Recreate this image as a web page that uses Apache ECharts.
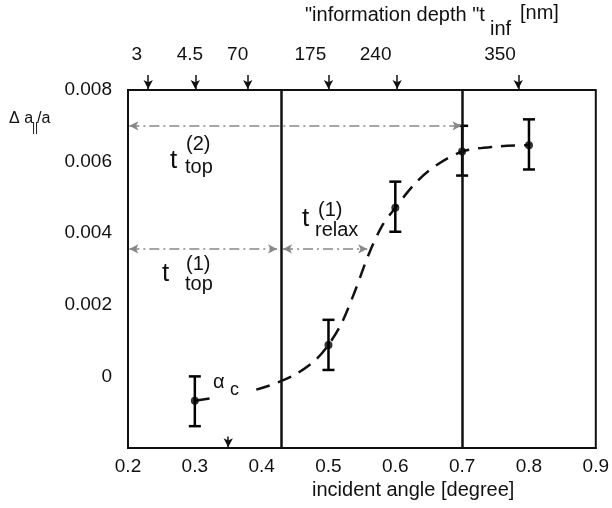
<!DOCTYPE html>
<html>
<head>
<meta charset="utf-8">
<script src="https://cdn.jsdelivr.net/npm/echarts@6/dist/echarts.min.js"></script>
<style>
  html, body { margin: 0; padding: 0; background: #fff; }
  #main { width: 612px; height: 508px; }
</style>
</head>
<body>
<div id="main"></div>
<script>
// measured points with error bars
var angles = [0.3, 0.5, 0.6, 0.7, 0.8];
var strain = [-0.00068, 0.00088, 0.00471, 0.00628, 0.00646];
var errLow = [-0.00139, 0.00018, 0.00404, 0.00561, 0.00578];
var errHigh = [0.0, 0.00158, 0.00544, 0.0070, 0.00718];

// dashed guide curve
var curveX = [0.392, 0.42, 0.45, 0.48, 0.5, 0.52, 0.54, 0.56, 0.58, 0.6, 0.63, 0.66, 0.7, 0.75, 0.8];
var curveY = [-0.00037, -0.0002, 0.00005, 0.00045, 0.00088, 0.0015, 0.0024, 0.0034, 0.0042, 0.00471, 0.0054, 0.00588, 0.00628, 0.00642, 0.00646];
var stubX = [0.3, 0.322];
var stubY = [-0.00068, -0.00062];

// region borders, critical angle
var borderX = [0.427, 0.702];
var alphaC = 0.35;

// information depth arrows on top
var depthText = ['3', '4.5', '70', '175', '240', '350'];
var depthArrowX = [0.23, 0.3, 0.378, 0.498, 0.6, 0.78];
var depthLabelX = [0.213, 0.292, 0.363, 0.471, 0.568, 0.753];

// thickness arrows: [from, to, level]
var arrowTop2 = [0.202, 0.699, 0.007];
var arrowTop1 = [0.202, 0.423, 0.00356];
var arrowRelax = [0.432, 0.558, 0.00356];

var xTicks = { min: 0.2, max: 0.9, step: 0.1 };
var yTicks = { min: -0.002, max: 0.008, step: 0.002 };

var FONT = 'Liberation Sans, Arial, Helvetica, sans-serif';
var chart = echarts.init(document.getElementById('main'));

function zip(a, b) {
  return a.map(function (v, i) { return [v, b[i]]; });
}

function renderErr(params, api) {
  var x = api.value(0);
  var lo = api.coord([x, api.value(1)]);
  var hi = api.coord([x, api.value(2)]);
  var w = 6;
  var st = { stroke: '#000', lineWidth: 2.5 };
  return {
    type: 'group',
    children: [
      { type: 'line', shape: { x1: lo[0], y1: lo[1], x2: hi[0], y2: hi[1] }, style: st },
      { type: 'line', shape: { x1: lo[0] - w, y1: lo[1], x2: lo[0] + w, y2: lo[1] }, style: st },
      { type: 'line', shape: { x1: hi[0] - w, y1: hi[1], x2: hi[0] + w, y2: hi[1] }, style: st }
    ]
  };
}

function hArrow(a) {
  return [{ coord: [a[0], a[2]] }, { coord: [a[1], a[2]] }];
}

function txt(s, x, y, size, align) {
  return {
    type: 'text', left: x, top: y,
    style: {
      text: s, font: size + 'px ' + FONT, fill: '#111',
      textAlign: align || 'left', textVerticalAlign: 'middle'
    }
  };
}

var option = {
  animation: false,
  backgroundColor: '#fff',
  grid: [
    { left: 128, right: 13, top: 90, bottom: 60, show: true, borderColor: '#111', borderWidth: 2 },
    { left: 128, right: 13, top: 0, height: 90 }
  ],
  xAxis: [
    {
      type: 'value', min: xTicks.min, max: xTicks.max, interval: xTicks.step,
      axisLine: { show: true, onZero: false, lineStyle: { color: '#111', width: 2 } },
      axisTick: { show: false },
      splitLine: { show: false },
      axisLabel: {
        margin: 9, fontSize: 19, color: '#111', fontFamily: FONT,
        formatter: function (v) { return v.toFixed(1); }
      }
    },
    { type: 'value', gridIndex: 1, min: xTicks.min, max: xTicks.max, show: false }
  ],
  yAxis: [
    {
      type: 'value', min: yTicks.min, max: yTicks.max, interval: yTicks.step,
      axisLine: { show: true, onZero: false, lineStyle: { color: '#111', width: 2 } },
      axisTick: { show: false },
      splitLine: { show: false },
      axisLabel: {
        margin: 16, fontSize: 19, color: '#111', fontFamily: FONT,
        padding: [4, 0, 0, 0],
        formatter: function (v) {
          var r = Math.round(v * 1000) / 1000;
          if (r < 0) return '';
          if (r === 0) return '0';
          return r.toFixed(3);
        }
      }
    },
    { type: 'value', gridIndex: 1, min: 0, max: 9, show: false }
  ],
  series: [
    {
      name: 'curve', type: 'line', data: zip(curveX, curveY), smooth: 0.3,
      showSymbol: false, symbol: 'none',
      lineStyle: { color: '#111', width: 2.5, type: [14, 9] }
    },
    {
      name: 'stub', type: 'line', data: zip(stubX, stubY),
      showSymbol: false, symbol: 'none',
      lineStyle: { color: '#111', width: 2.5 }
    },
    {
      name: 'error', type: 'custom', renderItem: renderErr,
      data: angles.map(function (x, i) { return [x, errLow[i], errHigh[i]]; }),
      encode: { x: 0, y: [1, 2] }, z: 3
    },
    {
      name: 'points', type: 'scatter', data: zip(angles, strain),
      symbolSize: 8, itemStyle: { color: '#000' }, z: 4
    },
    {
      name: 'borders', type: 'line', data: [],
      markLine: {
        silent: true, symbol: ['none', 'none'], label: { show: false },
        lineStyle: { color: '#111', width: 2.5, type: 'solid' },
        data: borderX.map(function (x) { return { xAxis: x }; })
      }
    },
    {
      name: 'guides', type: 'line', data: [],
      markLine: {
        silent: true, symbol: ['arrow', 'arrow'], symbolSize: [7, 9],
        label: { show: false },
        lineStyle: { color: '#888', width: 1.5, type: [10, 4, 2, 4] },
        data: [hArrow(arrowTop2), hArrow(arrowTop1), hArrow(arrowRelax)]
      }
    },
    {
      name: 'alphaC', type: 'line', data: [],
      markLine: {
        silent: true, symbol: ['none', 'arrow'], symbolSize: [7, 9],
        label: { show: false },
        lineStyle: { color: '#111', width: 1.5, type: 'solid' },
        data: [[{ coord: [alphaC, -0.00168] }, { coord: [alphaC, -0.00198] }]]
      }
    },
    {
      name: 'depth', type: 'scatter', xAxisIndex: 1, yAxisIndex: 1,
      data: depthLabelX.map(function (x, i) { return { value: [x, 3.5], name: depthText[i] }; }),
      symbolSize: 1, itemStyle: { color: '#fff', opacity: 1 },
      label: {
        show: true, position: 'inside', formatter: '{b}',
        fontSize: 19, color: '#111', fontFamily: FONT,
        textBorderWidth: 0, opacity: 1
      },
      markLine: {
        silent: true, symbol: ['none', 'arrow'], symbolSize: [7, 9],
        label: { show: false },
        lineStyle: { color: '#111', width: 1.5, type: 'solid' },
        data: depthArrowX.map(function (x) { return [{ coord: [x, 1.5] }, { coord: [x, 0.1] }]; })
      }
    }
  ],
  graphic: [
    txt('"information depth "t', 305, 5, 20),
    txt('inf', 490, 19, 20),
    txt('[nm]', 520, 3, 20),
    txt('\u0394 a', 9, 111, 16),
    txt('||', 32, 122, 12),
    txt('/a', 37, 111, 16),
    txt('t', 170, 148, 26),
    txt('(2)', 186, 134, 20),
    txt('top', 185, 157, 20),
    txt('t', 162, 261, 26),
    txt('(1)', 186, 254, 20),
    txt('top', 185, 274, 20),
    txt('t', 302, 206, 26),
    txt('(1)', 318, 200, 20),
    txt('relax', 315, 220, 20),
    txt('\u03b1', 213, 372, 20),
    txt('c', 230, 381, 18),
    txt('incident angle [degree]', 312, 480, 20)
  ]
};

chart.setOption(option);
</script>
</body>
</html>
